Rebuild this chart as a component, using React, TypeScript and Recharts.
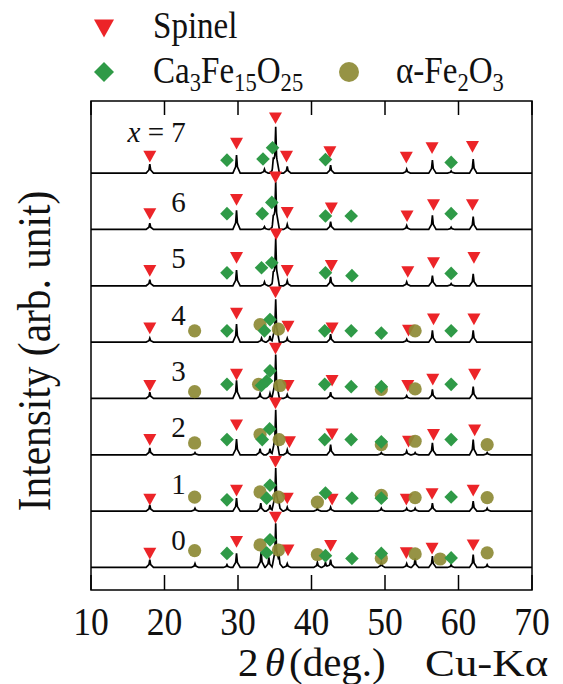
import React from 'react';
import { ComposedChart, Line, Scatter, XAxis, YAxis, ReferenceArea } from 'recharts';

// x in Ca-Fe-O samples, bottom to top
const compositions = ['0', '1', '2', '3', '4', '5', '6', '7'];
const angleTicks = [10, 20, 30, 40, 50, 60, 70];

// measured reflections per sample: [2θ (deg), intensity (arb.)]
const peaks0 = [[18.0, 14], [24.15, 7], [28.5, 5], [29.8, 25], [33.15, 28], [34.2, 18], [35.13, 78], [35.6, 18], [36.7, 7], [40.8, 9], [41.9, 9], [42.6, 14], [49.5, 9], [52.95, 7], [54.1, 16], [56.45, 20], [59.0, 5], [62.0, 23], [63.9, 5]];
const peaks1 = [[18.0, 11], [24.15, 5], [29.8, 23], [33.1, 14], [34.35, 11], [35.13, 76], [35.6, 14], [36.7, 7], [40.8, 5], [42.6, 7], [49.5, 5], [52.95, 5], [54.1, 5], [56.45, 14], [62.0, 18], [63.9, 5]];
const peaks2 = [[18.0, 12], [24.15, 4], [29.8, 28], [33.0, 11], [34.35, 11], [35.13, 80], [36.7, 9], [42.6, 18], [49.5, 4], [52.95, 7], [54.1, 4], [56.45, 21], [62.0, 27], [63.9, 4]];
const peaks3 = [[18.0, 11], [29.8, 32], [33.0, 9], [34.35, 9], [35.13, 78], [36.7, 7], [42.6, 11], [52.95, 5], [56.45, 16], [62.0, 21]];
const peaks4 = [[18.0, 7], [29.8, 32], [33.2, 7], [34.35, 11], [35.13, 76], [36.7, 7], [42.6, 14], [52.95, 5], [56.45, 21], [62.0, 21]];
const peaks5 = [[18.0, 11], [29.8, 28], [33.6, 7], [34.8, 12], [35.13, 83], [36.7, 9], [42.6, 16], [52.95, 7], [56.45, 18], [59.0, 4], [62.0, 21]];
const peaks6 = [[18.0, 11], [29.8, 34], [33.6, 5], [34.8, 12], [35.13, 83], [36.7, 9], [42.6, 14], [52.95, 7], [56.45, 25], [59.0, 4], [62.0, 23]];
const peaks7 = [[18.0, 16], [29.8, 32], [33.6, 7], [34.8, 14], [35.13, 80], [36.7, 12], [42.6, 14], [52.95, 7], [56.45, 23], [59.0, 4], [62.0, 25]];

// phase markers: [2θ, height above the pattern baseline]
const spinel0 = [[18.0, 25], [29.8, 46], [35.1, 89], [36.8, 31], [42.6, 39], [52.9, 26], [56.4, 34], [62.0, 40]];
const spinel1 = [[18.0, 21], [29.8, 37], [35.1, 88], [36.7, 23], [42.8, 21], [52.9, 21], [56.4, 31], [62.0, 37]];
const spinel2 = [[18.0, 27], [29.8, 53], [35.1, 92], [37.0, 23], [42.8, 37], [53.2, 24], [56.6, 36], [62.2, 44]];
const spinel3 = [[18.0, 23], [29.8, 43], [35.1, 89], [36.8, 23], [42.8, 32], [53.1, 23], [56.5, 34], [62.2, 43]];
const spinel4 = [[18.0, 25], [29.8, 51], [35.1, 89], [36.8, 28], [42.8, 25], [53.2, 21], [56.6, 41], [62.1, 41]];
const spinel5 = [[18.0, 27], [29.8, 50], [35.2, 92], [36.7, 27], [42.7, 36], [53.1, 25], [56.6, 41], [62.1, 50]];
const spinel6 = [[18.0, 28], [29.8, 53], [35.1, 93], [36.7, 30], [42.7, 38], [53.0, 24], [56.6, 44], [61.9, 44]];
const spinel7 = [[18.0, 30], [29.8, 53], [35.1, 98], [36.6, 30], [42.5, 38], [52.9, 28], [56.4, 45], [61.9, 47]];

const cafe0 = [[28.5, 25], [33.9, 26], [34.35, 49], [41.9, 21], [45.5, 16], [49.5, 25], [59.0, 17]];
const cafe1 = [[28.5, 20], [33.9, 23], [34.35, 46], [41.9, 32], [45.5, 23], [49.5, 23], [59.0, 25]];
const cafe2 = [[28.5, 27], [33.3, 27], [34.3, 46], [41.8, 27], [45.4, 27], [49.5, 23], [59.0, 27]];
const cafe3 = [[28.5, 25], [33.2, 23], [33.9, 31], [34.35, 49], [41.8, 25], [45.4, 21], [49.5, 21], [59.0, 25]];
const cafe4 = [[28.5, 20], [33.6, 20], [34.35, 40], [41.8, 20], [45.4, 20], [49.5, 16], [59.0, 20]];
const cafe5 = [[28.5, 23], [33.2, 32], [34.6, 41], [41.9, 23], [45.5, 18], [59.0, 22]];
const cafe6 = [[28.5, 28], [33.3, 28], [34.6, 48], [41.9, 24], [45.4, 24], [59.0, 28]];
const cafe7 = [[28.5, 23], [33.4, 25], [34.7, 45], [41.9, 24], [59.0, 19]];

const hematite0 = [[24.1, 30], [33.0, 40], [35.5, 31], [40.8, 23], [49.5, 16], [54.1, 24], [57.5, 15], [63.9, 26]];
const hematite1 = [[24.1, 25], [33.0, 34], [35.5, 25], [40.8, 16], [49.5, 28], [54.1, 24], [63.9, 24]];
const hematite2 = [[24.1, 21], [33.0, 36], [35.6, 27], [49.5, 18], [54.1, 24], [63.9, 18]];
const hematite3 = [[24.1, 12], [32.8, 25], [35.7, 23], [49.5, 16], [54.1, 17]];
const hematite4 = [[24.1, 20], [33.0, 31], [35.5, 23], [54.1, 20]];

const patterns = [peaks0, peaks1, peaks2, peaks3, peaks4, peaks5, peaks6, peaks7];
const spinelMarks = [spinel0, spinel1, spinel2, spinel3, spinel4, spinel5, spinel6, spinel7];
const cafeMarks = [cafe0, cafe1, cafe2, cafe3, cafe4, cafe5, cafe6, cafe7];
const hematiteMarks = [hematite0, hematite1, hematite2, hematite3, hematite4, [], [], []];

const STEP = 100; // vertical offset between stacked patterns
const FONT = "'Liberation Serif', 'Times New Roman', serif";
const RED = '#ec2428';
const GREEN = '#2f9a47';
const OLIVE = '#8d8a35';

// peak outline: sharp tip, wider foot (distance in deg -> fraction of height)
const KERNEL = [[0, 1], [0.12, 0.35], [0.5, 0]];

function kernelAt(d: number) {
  for (let k = 1; k < KERNEL.length; k++) {
    const [d0, v0] = KERNEL[k - 1];
    const [d1, v1] = KERNEL[k];
    if (d <= d1) return v0 + ((v1 - v0) * (d - d0)) / (d1 - d0);
  }
  return 0;
}

// piecewise-linear pattern through the listed reflections
function profile(peaks: number[][], offset: number) {
  const xs = new Set<number>([10, 70]);
  peaks.forEach(([p]) => KERNEL.forEach(([d]) => {
    xs.add(+(p - d).toFixed(3));
    xs.add(+(p + d).toFixed(3));
  }));
  return Array.from(xs)
    .sort((a, b) => a - b)
    .map((x) => ({
      x,
      y: peaks.reduce((y, [p, h]) => y + h * kernelAt(Math.abs(x - p)), offset),
    }));
}

const markerPoints = (sets: number[][][]) =>
  sets.flatMap((set, i) => set.map(([x, h]) => ({ x, y: i * STEP + h })));

const labelPoints = compositions.map((c, i) => ({ x: 22.9, y: i * STEP + (i === 7 ? 56 : 31), name: c }));

// text squeezed horizontally to mimic a narrow serif face
const Txt = ({ x, y, size, anchor = 'start', rotate = 0, sx = 0.87, children }: any) => (
  <g transform={`translate(${x} ${y}) rotate(${rotate}) scale(${sx} 1)`}>
    <text x={0} y={0} fontSize={size} textAnchor={anchor} fontFamily={FONT} fill="#111">
      {children}
    </text>
  </g>
);

const Triangle = ({ cx, cy, s = 6.5 }: any) => (
  <path d={`M${cx - s},${cy - s * 0.85} L${cx + s},${cy - s * 0.85} L${cx},${cy + s * 0.95} Z`} fill={RED} />
);
const Diamond = ({ cx, cy, s = 6.8 }: any) => (
  <path d={`M${cx},${cy - s} L${cx + s},${cy} L${cx},${cy + s} L${cx - s},${cy} Z`} fill={GREEN} />
);
const Dot = ({ cx, cy, r = 6.6 }: any) => <circle cx={cx} cy={cy} r={r} fill={OLIVE} fillOpacity={0.92} />;

const SampleLabel = ({ cx, cy, payload }: any) =>
  payload.name === '7' ? (
    <Txt x={cx} y={cy} size={29} anchor="end" sx={1}>
      <tspan fontStyle="italic">x</tspan> = 7
    </Txt>
  ) : (
    <Txt x={cx} y={cy} size={29} anchor="end" sx={1}>
      {payload.name}
    </Txt>
  );

const BottomTick = ({ x, y, payload }: any) => (
  <g>
    <line x1={x} x2={x} y1={y} y2={y - 15} stroke="#000" strokeWidth={1.5} />
    <Txt x={x} y={y + 45} size={40} anchor="middle" sx={0.89}>
      {payload.value}
    </Txt>
  </g>
);

const TopTick = ({ x, y }: any) => <line x1={x} x2={x} y1={y} y2={y + 14} stroke="#000" strokeWidth={1.5} />;

export default function App() {
  return (
    <div style={{ position: 'absolute', left: 0, top: 0, width: 563, height: 684, background: '#fff' }}>
      <ComposedChart width={563} height={684} margin={{ top: 71, right: 31, bottom: 64, left: 91 }}>
        <XAxis
          xAxisId="bottom"
          dataKey="x"
          type="number"
          domain={[10, 70]}
          ticks={angleTicks}
          allowDataOverflow
          axisLine={false}
          tickLine={false}
          tickSize={0}
          tickMargin={0}
          height={30}
          tick={<BottomTick />}
        />
        <XAxis
          xAxisId="top"
          orientation="top"
          dataKey="x"
          type="number"
          domain={[10, 70]}
          ticks={angleTicks}
          allowDataOverflow
          axisLine={false}
          tickLine={false}
          tickSize={0}
          tickMargin={0}
          height={30}
          tick={<TopTick />}
        />
        <YAxis yAxisId="int" dataKey="y" type="number" domain={[-40, 828]} allowDataOverflow hide />

        {patterns.map((peaks, i) => (
          <Line
            key={`p${i}`}
            xAxisId="bottom"
            yAxisId="int"
            data={profile(peaks, i * STEP)}
            dataKey="y"
            type="linear"
            stroke="#000"
            strokeWidth={1.7}
            dot={false}
            isAnimationActive={false}
          />
        ))}
        <Line
          xAxisId="top"
          yAxisId="int"
          data={[{ x: 10, y: -40 }, { x: 70, y: -40 }]}
          dataKey="y"
          stroke="none"
          dot={false}
          isAnimationActive={false}
        />

        <Scatter xAxisId="bottom" yAxisId="int" data={markerPoints(spinelMarks)} shape={<Triangle />} isAnimationActive={false} />
        <Scatter xAxisId="bottom" yAxisId="int" data={markerPoints(hematiteMarks)} shape={<Dot />} isAnimationActive={false} />
        <Scatter xAxisId="bottom" yAxisId="int" data={markerPoints(cafeMarks)} shape={<Diamond />} isAnimationActive={false} />
        <Scatter xAxisId="bottom" yAxisId="int" data={labelPoints} shape={<SampleLabel />} isAnimationActive={false} />

        <ReferenceArea
          xAxisId="bottom"
          yAxisId="int"
          x1={10}
          x2={70}
          y1={-40}
          y2={828}
          fill="none"
          stroke="#000"
          strokeWidth={1.5}
        />
      </ComposedChart>

      <svg width={563} height={684} style={{ position: 'absolute', left: 0, top: 0, pointerEvents: 'none' }}>
        {/* legend */}
        <Triangle cx={104} cy={28} s={10} />
        <Txt x={153} y={38} size={38}>Spinel</Txt>
        <Diamond cx={104} cy={72} s={10} />
        <Txt x={153} y={83} size={38}>
          Ca<tspan fontSize={26} dy={8}>3</tspan>
          <tspan dy={-8}>Fe</tspan>
          <tspan fontSize={26} dy={8}>15</tspan>
          <tspan dy={-8}>O</tspan>
          <tspan fontSize={26} dy={8}>25</tspan>
        </Txt>
        <Dot cx={349} cy={72} r={10} />
        <Txt x={396} y={83} size={38}>
          α-Fe<tspan fontSize={26} dy={8}>2</tspan>
          <tspan dy={-8}>O</tspan>
          <tspan fontSize={26} dy={8}>3</tspan>
        </Txt>

        {/* axis titles */}
        <Txt x={50} y={351} size={46} anchor="middle" rotate={-90} sx={0.9}>
          Intensity (arb. unit)
        </Txt>
        <Txt x={238} y={676} size={39} sx={1.05}>
          2<tspan fontStyle="italic" dx={6}>θ</tspan>
          <tspan dx={4}>(deg.)</tspan>
        </Txt>
        <Txt x={425} y={676} size={39} sx={1.15}>
          Cu-Kα
        </Txt>
      </svg>
    </div>
  );
}
